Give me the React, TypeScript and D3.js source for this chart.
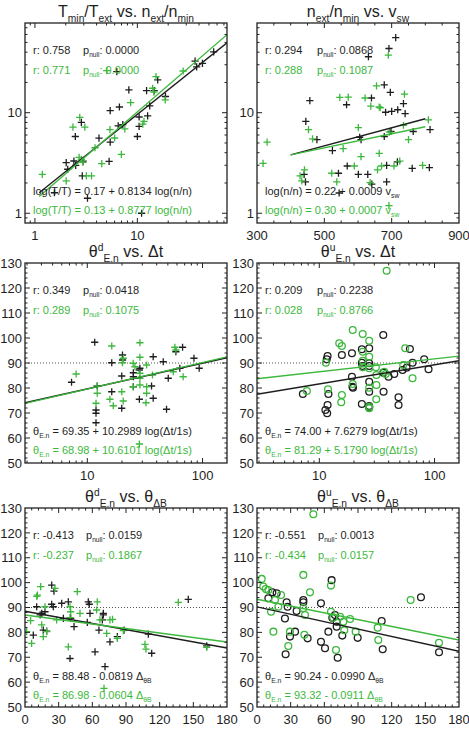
import React, { useEffect, useRef } from "react";
import * as d3 from "d3";

// ---- data ----
type Pt = [number, number];

// T_min/T_ext vs n_ext/n_min
const tnBlack: Pt[] = [
  [11.0, 1.0], [3.26, 1.41], [1.55, 1.6], [2.02, 3.19], [2.09, 2.74], [2.4, 3.31], [2.95, 3.3],
  [2.9, 2.35], [2.48, 5.8], [2.84, 8.0], [4.22, 5.58], [5.3, 3.28], [5.43, 10.5], [5.43, 5.1],
  [6.68, 11.4], [6.3, 25.6], [6.5, 7.4], [8.26, 16.9], [10, 5.8], [10.4, 9.06], [10.4, 7.3],
  [12.3, 16.6], [12.6, 9.3], [13.2, 11.7], [14.6, 16.6], [15.8, 21.2], [18.8, 14.5], [36.6, 32.6],
  [37.9, 28.6], [43.2, 31], [55.6, 40.3], [2.5, 3.0], [7.2, 7.6],
];
const tnGreen: Pt[] = [
  [1.18, 2.44], [2.02, 2.1], [2.35, 7.2], [2.74, 9.0], [3.07, 7.2], [2.84, 3.44], [2.95, 3.2],
  [3.18, 2.35], [3.57, 2.35], [3.86, 4.48], [4.49, 3.11], [5.03, 26.2], [5.4, 6.8], [6.98, 3.85],
  [7.54, 6.9], [8.6, 12.6], [6.0, 5.6], [11.6, 8.2], [11.3, 7.7], [14.1, 17.5], [15.2, 22.8],
  [18.7, 13.4], [28, 26], [2.7, 3.6], [14.5, 16],
];

// n_ext/n_min vs v_sw
const nvBlack: Pt[] = [
  [712, 55.8], [692, 43.5], [631, 36], [678, 18.9], [457, 13.2], [566, 12.0], [640, 14.0], [696, 15.9],
  [735, 12.3], [445, 8.2], [478, 5.4], [609, 5.4], [524, 4.2], [682, 10.1], [700, 10.3], [718, 10.7],
  [740, 9.8], [678, 5.8], [698, 6.5], [764, 6.5], [814, 6.8], [568, 2.95], [542, 2.5], [601, 2.44],
  [629, 2.44], [641, 1.95], [544, 1.59], [685, 2.05], [685, 3.0], [717, 3.24], [761, 2.8], [812, 2.84],
  [440, 2.44], [444, 2.05], [605, 5.7],
];
const nvGreen: Pt[] = [
  [690, 37.4], [571, 14.3], [546, 14.2], [621, 14.0], [655, 18.5], [738, 15.3], [638, 11.6], [663, 11.4],
  [330, 5.1], [318, 3.13], [453, 6.8], [465, 5.5], [556, 4.4], [601, 7.1], [609, 3.65], [663, 3.94],
  [693, 6.4], [735, 7.5], [750, 5.4], [809, 8.5], [428, 2.35], [433, 2.1], [441, 2.7], [522, 2.5],
  [537, 2.05], [589, 2.95], [636, 2.02], [658, 2.7], [670, 2.95], [707, 2.95], [724, 3.3], [792, 3.0],
  [692, 1.19], [666, 11.2],
];

// theta^d vs dt
const tdDtBlack: Pt[] = [
  [7.3, 82.3], [11.6, 98.3], [12.2, 80.8], [11.9, 71.2], [11.9, 69.9], [11.9, 66.1], [16.3, 90.1],
  [16.3, 78.5], [19.9, 84.8], [19.9, 71.9], [20.2, 93.2], [20.2, 91.2], [25.1, 86.1], [25.1, 84.5],
  [28.3, 87.2], [28.6, 87.9], [28.3, 75.5], [37.3, 92.5], [36.1, 80.8], [37.3, 75.9], [45.6, 90.5],
  [50.4, 83.9], [48.7, 71.5], [63.5, 87.9], [58.7, 94.5], [67.1, 96.3], [84.2, 91.9], [93.5, 87.9],
  [25.1, 80.5],
];
const tdDtGreen: Pt[] = [
  [8.0, 85.6], [12.2, 80.8], [12.2, 77.9], [11.9, 73.9], [16.3, 96.8], [15.7, 75.5], [16.8, 72.9],
  [19.9, 78.5], [20.5, 74.8], [20.5, 91.9], [20.2, 90.1], [25, 89.9], [25, 80.5], [25.9, 88.5],
  [28.6, 98.1], [28.6, 92.3], [28.6, 85.9], [28.6, 83.9], [28.6, 81.2], [32.7, 89.2], [32.7, 80.5],
  [32.7, 77.9], [32.3, 74.1], [36.8, 85.2], [28.3, 57.6], [55.7, 86.5], [58.7, 95.2], [57.5, 96.3],
  [67.9, 84.5],
];

// theta^u vs dt
const tuDtBlack: Pt[] = [
  [7.2, 77.6], [11.8, 92.8], [11.6, 91.5], [11.3, 71.2], [11.7, 69.9], [11.8, 73.2], [12, 77.6],
  [15.7, 93.2], [19.2, 93.9], [19.2, 84.5], [19.4, 80.5], [19.6, 80.1], [23.4, 95.5], [23.4, 73.6],
  [23.4, 90.1], [23.7, 88.8], [27.1, 95.9], [27.1, 89.9], [27.1, 88.8], [27.1, 82.5], [27.1, 78.5],
  [27.1, 72.8], [27.1, 72.3], [35.9, 101.2], [35.9, 86.1], [36.1, 78.5], [39.9, 84.5], [44.7, 85.6],
  [48.7, 76.3], [48.7, 73.2], [52.8, 87.2], [57.2, 88.1], [61.1, 95.6], [64.4, 90.1], [81.3, 91.5],
  [88.7, 87.5],
];
const tuDtGreen: Pt[] = [
  [7.8, 78.8], [38.4, 126.9], [11.4, 90.1], [11.9, 79.5], [14.9, 97.9], [15.7, 96.8], [15.7, 77.2],
  [15.5, 74.3], [19.5, 103.2], [19.5, 81.6], [23.8, 101.6], [23.8, 94.5], [23.8, 90.9], [23.8, 88.3],
  [27.1, 98.9], [27.1, 92.5], [27.1, 87.9], [27.1, 80.1], [27.1, 72.5], [27.1, 71.9], [31, 88.3],
  [31.3, 81.2], [31.2, 75.5], [31.3, 85.2], [36.6, 86.5], [37.7, 85.6], [53.5, 89.2], [55.7, 95.9],
  [64.4, 83.9],
];

// theta^d vs theta_dB
const tdBBlack: Pt[] = [
  [10.4, 90.3], [7.4, 78.9], [14.9, 87.6], [17.8, 88.3], [16.3, 80.9], [19.3, 80.5], [23.8, 99.0],
  [25.8, 96.6], [23.8, 91.3], [25.2, 90.3], [32.7, 91.7], [34.2, 85.6], [38.6, 92.3], [40.1, 69.5],
  [40.7, 85.6], [43.7, 82.3], [55.5, 84.0], [56.4, 92.3], [57.3, 91.3], [57.9, 87.6], [62.4, 72.2],
  [65.9, 80.9], [68.9, 85.0], [69.8, 87.6], [69.8, 87.0], [71.3, 66.2], [75.7, 76.2], [82.3, 78.3],
  [88.2, 80.9], [109.9, 79.3], [112.9, 71.6], [145.5, 93.3], [161.9, 74.6], [13.5, 87.0],
];
const tdBGreen: Pt[] = [
  [1.5, 80.3], [5.0, 84.7], [5.9, 75.6], [11.0, 95.0], [14, 98.4], [14.9, 83.0], [16.3, 78.3],
  [17.8, 90.3], [19.3, 80.3], [26.7, 97.7], [28.2, 85.0], [38.6, 74.2], [40.1, 90.3], [40.7, 88.3],
  [40.1, 85.9], [46.6, 96.4], [49, 87.6], [64.4, 92.3], [63.8, 89.0], [66.8, 85.0], [70.4, 57.5],
  [72.8, 79.6], [75.7, 85.0], [78, 85.2], [82.3, 77.6], [87.6, 80.7], [106.9, 75.2], [107.8, 73.3],
  [136.6, 92.1], [161.9, 74.0], [10.5, 94.5],
];

// theta^u vs theta_dB
const tuBBlack: Pt[] = [
  [10.1, 93.7], [13.7, 96.1], [17.5, 95.7], [24.9, 85.6], [25.5, 71.2], [26.4, 92.1], [27.3, 90.3],
  [29.4, 78.3], [33.9, 80.3], [35.3, 88.6], [41.3, 93.0], [41.3, 92.1], [45.1, 77.6], [57, 91.7],
  [57, 76.2], [60.6, 73.6], [63.6, 80.3], [66.5, 101.0], [67.1, 85.9], [69.5, 87.0], [71, 84.3],
  [71, 82.3], [71.9, 69.8], [76, 78.7], [89.7, 77.8], [111.1, 84.6], [112, 73.2], [146.1, 94.1],
  [162.2, 72.0],
];
const tuBGreen: Pt[] = [
  [4.2, 101.5], [5.6, 98.4], [7.7, 97.4], [10.1, 97.0], [12.5, 88.3], [14.6, 80.3], [16, 93.0],
  [19, 90.3], [21.4, 95.0], [27.9, 74.5], [29.4, 80.3], [41.3, 103.1], [41.3, 89.7], [42.2, 79.0],
  [42.8, 87.0], [47.2, 96.1], [50.2, 127.5], [65.9, 98.8], [65.9, 88.3], [68, 85.9], [70.4, 72.9],
  [74, 86.3], [76.9, 84.3], [77.8, 80.9], [82.9, 85.4], [87.9, 80.3], [107.5, 81.9], [108.1, 76.9],
  [136.9, 93.0], [162.2, 75.8],
];

// fit coefficients [intercept, slope] black / green
const fitBlack: Pt[] = [[0.17, 0.8134], [0.22, 0.0009], [69.35, 10.2989], [74.0, 7.6279], [88.48, -0.0819], [90.24, -0.099]];
const fitGreen: Pt[] = [[0.13, 0.8777], [0.3, 0.0007], [68.98, 10.6101], [81.29, 5.179], [86.98, -0.0604], [93.32, -0.0911]];
// r and p_null
const rBlack = ["0.758", "0.294", "0.349", "0.209", "-0.413", "-0.551"];
const pBlack = ["0.0000", "0.0868", "0.0418", "0.2238", "0.0159", "0.0013"];
const rGreen = ["0.771", "0.288", "0.289", "0.028", "-0.237", "-0.434"];
const pGreen = ["0.0000", "0.1087", "0.1075", "0.8766", "0.1867", "0.0157"];

const BLACK = "#1e1e1e";
const GREEN = "#3cb83c";
const FONT = "'Liberation Sans', Arial, Helvetica, sans-serif";

type Seg = { t: string; s?: "sub" | "sup" };
type FitKind = "loglog" | "semilogy" | "semilogx" | "lin";

interface PanelCfg {
  left: number;
  top: number;
  h: number;
  xLog: boolean;
  yLog: boolean;
  xDomain: [number, number];
  yDomain: [number, number];
  xMajor: number[];
  yMajor: number[];
  xMinorStep?: number;
  yMinorStep?: number;
  title: Seg[];
  marker: "plus" | "circle";
  black: Pt[];
  green: Pt[];
  idx: number;
  fit: FitKind;
  fitRange: [number, number];
  pOff: number;
  eq: (i: number) => Seg[];
  dotted90: boolean;
}

const thetaEq = (rest: Seg[]): Seg[] => [{ t: "θ" }, { t: "E.n", s: "sub" }, ...rest];
const fmtSlope = (v: number) => (v < 0 ? " - " : " + ") + Math.abs(v).toFixed(4);

const panels: PanelCfg[] = [
  {
    left: 25, top: 23, h: 200, xLog: true, yLog: true, xDomain: [0.8, 75], yDomain: [0.8, 78],
    xMajor: [1, 10], yMajor: [1, 10],
    title: [{ t: "T" }, { t: "min", s: "sub" }, { t: "/T" }, { t: "ext", s: "sub" }, { t: " vs. n" }, { t: "ext", s: "sub" }, { t: "/n" }, { t: "min", s: "sub" }],
    marker: "plus", black: tnBlack, green: tnGreen, idx: 0, fit: "loglog", fitRange: [1.1, 75], pOff: 58,
    eq: (i) => { const f = i ? fitGreen[0] : fitBlack[0]; return [{ t: `log(T/T) = ${f[0].toFixed(2)}${fmtSlope(f[1])} log(n/n)` }]; },
    dotted90: false,
  },
  {
    left: 257, top: 23, h: 200, xLog: false, yLog: true, xDomain: [300, 900], yDomain: [0.8, 78],
    xMajor: [300, 500, 700, 900], yMajor: [1, 10], xMinorStep: 50,
    title: [{ t: "n" }, { t: "ext", s: "sub" }, { t: "/n" }, { t: "min", s: "sub" }, { t: " vs. v" }, { t: "sw", s: "sub" }],
    marker: "plus", black: nvBlack, green: nvGreen, idx: 1, fit: "semilogy", fitRange: [400, 800], pOff: 60,
    eq: (i) => { const f = i ? fitGreen[1] : fitBlack[1]; return [{ t: `log(n/n) = ${f[0].toFixed(2)}${fmtSlope(f[1])} v` }, { t: "sw", s: "sub" }]; },
    dotted90: false,
  },
  {
    left: 25, top: 263, h: 200, xLog: true, yLog: false, xDomain: [2.88, 163], yDomain: [50, 130],
    xMajor: [10, 100], yMajor: d3.range(50, 131, 10), yMinorStep: 2,
    title: [{ t: "θ" }, { t: "d", s: "sup" }, { t: "E.n", s: "sub" }, { t: " vs. Δt" }],
    marker: "plus", black: tdDtBlack, green: tdDtGreen, idx: 2, fit: "semilogx", fitRange: [2.88, 163], pOff: 58,
    eq: (i) => { const f = i ? fitGreen[2] : fitBlack[2]; return thetaEq([{ t: ` = ${f[0].toFixed(2)}${fmtSlope(f[1])} log(Δt/1s)` }]); },
    dotted90: true,
  },
  {
    left: 257, top: 263, h: 200, xLog: true, yLog: false, xDomain: [2.88, 163], yDomain: [50, 130],
    xMajor: [10, 100], yMajor: d3.range(50, 131, 10), yMinorStep: 2,
    title: [{ t: "θ" }, { t: "u", s: "sup" }, { t: "E.n", s: "sub" }, { t: " vs. Δt" }],
    marker: "circle", black: tuDtBlack, green: tuDtGreen, idx: 3, fit: "semilogx", fitRange: [2.88, 163], pOff: 60,
    eq: (i) => { const f = i ? fitGreen[3] : fitBlack[3]; return thetaEq([{ t: ` = ${f[0].toFixed(2)}${fmtSlope(f[1])} log(Δt/1s)` }]); },
    dotted90: true,
  },
  {
    left: 25, top: 508, h: 199, xLog: false, yLog: false, xDomain: [0, 180], yDomain: [50, 130],
    xMajor: d3.range(0, 181, 30), yMajor: d3.range(50, 131, 10), xMinorStep: 6, yMinorStep: 2,
    title: [{ t: "θ" }, { t: "d", s: "sup" }, { t: "E.n", s: "sub" }, { t: " vs. θ" }, { t: "ΔB", s: "sub" }],
    marker: "plus", black: tdBBlack, green: tdBGreen, idx: 4, fit: "lin", fitRange: [0, 180], pOff: 61,
    eq: (i) => { const f = i ? fitGreen[4] : fitBlack[4]; return thetaEq([{ t: ` = ${f[0].toFixed(2)}${fmtSlope(f[1])} Δ` }, { t: "θB", s: "sub" }]); },
    dotted90: true,
  },
  {
    left: 257, top: 508, h: 199, xLog: false, yLog: false, xDomain: [0, 180], yDomain: [50, 130],
    xMajor: d3.range(0, 181, 30), yMajor: d3.range(50, 131, 10), xMinorStep: 6, yMinorStep: 2,
    title: [{ t: "θ" }, { t: "u", s: "sup" }, { t: "E.n", s: "sub" }, { t: " vs. θ" }, { t: "ΔB", s: "sub" }],
    marker: "circle", black: tuBBlack, green: tuBGreen, idx: 5, fit: "lin", fitRange: [0, 180], pOff: 61,
    eq: (i) => { const f = i ? fitGreen[5] : fitBlack[5]; return thetaEq([{ t: ` = ${f[0].toFixed(2)}${fmtSlope(f[1])} Δ` }, { t: "θB", s: "sub" }]); },
    dotted90: true,
  },
];

const W = 202;

// text with sub/superscripts
function rich(
  g: d3.Selection<SVGGElement, unknown, null, undefined>,
  x: number, y: number, segs: Seg[], size: number, color: string,
  anchor = "start", small = 0.62,
) {
  const text = g.append("text").attr("x", x).attr("y", y).attr("fill", color)
    .attr("font-size", size).attr("text-anchor", anchor).style("font-family", FONT);
  let cur = 0;
  segs.forEach((s) => {
    const off = s.s === "sub" ? size * 0.3 : s.s === "sup" ? -size * 0.36 : 0;
    text.append("tspan").attr("dy", off - cur).attr("font-size", s.s ? size * small : size).text(s.t);
    cur = off;
  });
}

function fitY(kind: FitKind, c: Pt, x: number) {
  if (kind === "loglog") return Math.pow(10, c[0] + c[1] * Math.log10(x));
  if (kind === "semilogy") return Math.pow(10, c[0] + c[1] * x);
  if (kind === "semilogx") return c[0] + c[1] * Math.log10(x);
  return c[0] + c[1] * x;
}

function drawPanel(root: d3.Selection<SVGGElement, unknown, null, undefined>, p: PanelCfg) {
  const g = root.append("g").attr("transform", `translate(${p.left},${p.top})`);
  const H = p.h;
  const x = (p.xLog ? d3.scaleLog() : d3.scaleLinear()).domain(p.xDomain).range([0, W]);
  const y = (p.yLog ? d3.scaleLog() : d3.scaleLinear()).domain(p.yDomain).range([H, 0]);

  // title
  rich(g, W / 2, -6, p.title, 16, BLACK, "middle", 0.64);

  const clipId = `clip${p.idx}`;
  g.append("clipPath").attr("id", clipId).append("rect").attr("width", W).attr("height", H);
  const plot = g.append("g").attr("clip-path", `url(#${clipId})`);

  if (p.dotted90) {
    plot.append("line").attr("x1", 0).attr("x2", W).attr("y1", y(90)).attr("y2", y(90))
      .attr("stroke", "#555").attr("stroke-width", 1).attr("stroke-dasharray", "1,2");
  }

  // points
  const series: [Pt[], string][] = [[p.black, BLACK], [p.green, GREEN]];
  series.forEach(([data, col]) => {
    if (p.marker === "plus") {
      plot.append("g").selectAll("path").data(data).enter().append("path")
        .attr("d", (d) => {
          const cx = x(d[0]), cy = y(d[1]);
          return `M${cx - 3.6},${cy}H${cx + 3.6}M${cx},${cy - 3.6}V${cy + 3.6}`;
        })
        .attr("stroke", col).attr("stroke-width", 1.3).attr("fill", "none");
    } else {
      plot.append("g").selectAll("circle").data(data).enter().append("circle")
        .attr("cx", (d) => x(d[0])).attr("cy", (d) => y(d[1])).attr("r", 3.4)
        .attr("stroke", col).attr("stroke-width", 1.3).attr("fill", "none");
    }
  });

  // fit lines
  const fits: [Pt, string][] = [[fitBlack[p.idx], BLACK], [fitGreen[p.idx], GREEN]];
  fits.forEach(([c, col]) => {
    plot.append("path")
      .attr("d", d3.line<number>().x((v) => x(v)).y((v) => y(fitY(p.fit, c, v)))(p.fitRange))
      .attr("stroke", col).attr("stroke-width", 1.4).attr("fill", "none");
  });

  // frame
  g.append("rect").attr("width", W).attr("height", H).attr("fill", "none")
    .attr("stroke", "#222").attr("stroke-width", 1.3);

  // ticks, inward on all sides
  const tickG = g.append("g").attr("stroke", "#222").attr("stroke-width", 1);
  const xTicks: [number, boolean][] = p.xLog
    ? (x as d3.ScaleLogarithmic<number, number>).ticks().map((t) => [t, p.xMajor.includes(t)])
    : d3.range(p.xDomain[0], p.xDomain[1] + 1e-9, p.xMinorStep || 1000).map((t) => [t, p.xMajor.includes(t)]);
  p.xMajor.forEach((t) => { if (!xTicks.some((d) => d[0] === t)) xTicks.push([t, true]); });
  const yTicks: [number, boolean][] = p.yLog
    ? (y as d3.ScaleLogarithmic<number, number>).ticks().map((t) => [t, p.yMajor.includes(t)])
    : d3.range(p.yDomain[0], p.yDomain[1] + 1e-9, p.yMinorStep || 1000).map((t) => [t, p.yMajor.includes(t)]);
  xTicks.forEach(([t, maj]) => {
    const px = x(t), len = maj ? 5 : 2.5;
    if (px < 0.5 || px > W - 0.5) return;
    tickG.append("line").attr("x1", px).attr("x2", px).attr("y1", H).attr("y2", H - len);
    tickG.append("line").attr("x1", px).attr("x2", px).attr("y1", 0).attr("y2", len);
  });
  yTicks.forEach(([t, maj]) => {
    const py = y(t), len = maj ? 5 : 2.5;
    if (py < 0.5 || py > H - 0.5) return;
    tickG.append("line").attr("y1", py).attr("y2", py).attr("x1", 0).attr("x2", len);
    tickG.append("line").attr("y1", py).attr("y2", py).attr("x1", W).attr("x2", W - len);
  });

  // tick labels
  p.xMajor.forEach((t) => {
    g.append("text").attr("x", x(t)).attr("y", H + 17).attr("text-anchor", "middle")
      .attr("font-size", 13).attr("fill", BLACK).style("font-family", FONT).text(String(t));
  });
  p.yMajor.forEach((t) => {
    g.append("text").attr("x", -3).attr("y", y(t)).attr("dy", "0.36em").attr("text-anchor", "end")
      .attr("font-size", 13).attr("fill", BLACK).style("font-family", FONT).text(String(t));
  });

  // stats
  const sRows: [string, string, string][] = [[rBlack[p.idx], pBlack[p.idx], BLACK], [rGreen[p.idx], pGreen[p.idx], GREEN]];
  sRows.forEach(([r, pv, col], i) => {
    const yy = 31 + i * 20;
    rich(g, 8, yy, [{ t: `r: ${r}` }], 11, col);
    rich(g, p.pOff, yy, [{ t: "p" }, { t: "null", s: "sub" }, { t: `: ${pv}` }], 11, col, "start", 0.6);
  });

  // fit equations
  [BLACK, GREEN].forEach((col, i) => {
    rich(g, 8, 172 + i * 19, p.eq(i), 11, col, "start", 0.62);
  });
}

export default function App() {
  const ref = useRef<SVGGElement>(null);

  useEffect(() => {
    const root = d3.select(ref.current as SVGGElement);
    root.selectAll("*").remove();
    panels.forEach((p) => drawPanel(root, p));
  }, []);

  return (
    <svg
      width={469}
      height={729}
      style={{ position: "absolute", left: 0, top: 0, background: "#fff" }}
    >
      <rect width={469} height={729} fill="#fff" />
      <g ref={ref} />
    </svg>
  );
}
